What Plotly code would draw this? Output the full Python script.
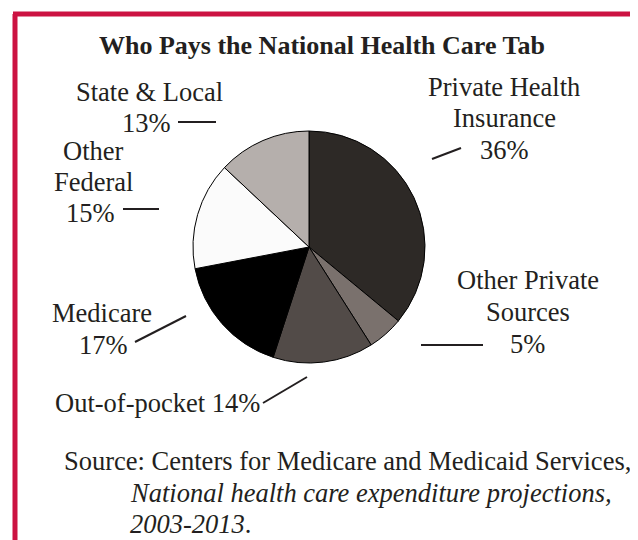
import plotly.graph_objects as go

# page offset (browser default body margin)
OFF = 8
W, H = 638 - OFF, 540 - OFF

categories = ["Private Health Insurance", "Other Private Sources", "Out-of-pocket",
              "Medicare", "Other Federal", "State & Local"]
values = [36, 5, 14, 17, 15, 13]
colors = ["#2d2926", "#7a716d", "#524b48", "#000000", "#fbfbfb", "#b5afac"]

title_text = "Who Pays the National Health Care Tab"
source_lines = ["Source: Centers for Medicare and Medicaid Services,",
                "<i>National health care expenditure projections,</i>",
                "<i>2003-2013</i>."]

# label text lines: (text, x_px, y_px, anchor) in window pixels
label_lines = [
    ("State & Local", 149, 92, "center"),
    ("13%", 173, 123, "right"),
    ("Other", 93, 151, "center"),
    ("Federal", 93, 182, "center"),
    ("15%", 117, 213, "right"),
    ("Private Health", 504, 87, "center"),
    ("Insurance", 504, 118, "center"),
    ("36%", 504, 150, "center"),
    ("Other Private", 528, 280, "center"),
    ("Sources", 528, 312, "center"),
    ("5%", 527, 344, "center"),
    ("Medicare", 102, 313, "center"),
    ("17%", 103, 345, "center"),
    ("Out-of-pocket 14%", 157, 403, "center"),
]
leader_lines = [
    (178, 122, 216, 122),
    (123, 209, 159, 209),
    (432, 159, 461, 148),
    (421, 345, 483, 345),
    (135, 342, 186, 316),
    (263, 403, 307, 377),
]

cx, cy, r = 309, 247, 116

def px(x):
    return (x - OFF) / W

def py(y):
    return 1 - (y - OFF) / H

fig = go.Figure(go.Pie(
    labels=categories, values=values, sort=False, direction="clockwise", rotation=0,
    marker=dict(colors=colors, line=dict(color="#000000", width=1)),
    textinfo="none", hoverinfo="label+percent", showlegend=False,
    domain=dict(x=[px(cx - r), px(cx + r)], y=[py(cy + r), py(cy - r)]),
))

fam = "Liberation Serif, Times New Roman, serif"
font = dict(family=fam, size=26.5, color="#231f20")
ann = [dict(text="<b>" + title_text + "</b>", x=px(322), y=py(45), xref="paper", yref="paper",
            xanchor="center", yanchor="middle", showarrow=False,
            font=dict(family=fam, size=26, color="#231f20"))]
for t, x, y, a in label_lines:
    ann.append(dict(text=t, x=px(x), y=py(y), xref="paper", yref="paper",
                    xanchor=a, yanchor="middle", showarrow=False, font=font))
src_pos = [(62, 461), (128, 493), (128, 524)]
for t, (x, y) in zip(source_lines, src_pos):
    ann.append(dict(text=t, x=px(x), y=py(y), xref="paper", yref="paper",
                    xanchor="left", yanchor="middle", showarrow=False, font=font))

shapes = []
for x0, y0, x1, y1 in leader_lines:
    shapes.append(dict(type="line", xref="paper", yref="paper", x0=px(x0), y0=py(y0),
                       x1=px(x1), y1=py(y1), line=dict(color="#231f20", width=2)))
border = "#cc1242"
shapes.append(dict(type="line", xref="paper", yref="paper", x0=px(15), y0=py(14), x1=px(15), y1=0,
                   line=dict(color=border, width=5)))
shapes.append(dict(type="line", xref="paper", yref="paper", x0=px(13), y0=py(14), x1=1, y1=py(14),
                   line=dict(color=border, width=5)))

fig.update_layout(width=W, height=H, margin=dict(l=0, r=0, t=0, b=0),
                  paper_bgcolor="white", plot_bgcolor="white",
                  annotations=ann, shapes=shapes)
fig.write_html("out.html")
